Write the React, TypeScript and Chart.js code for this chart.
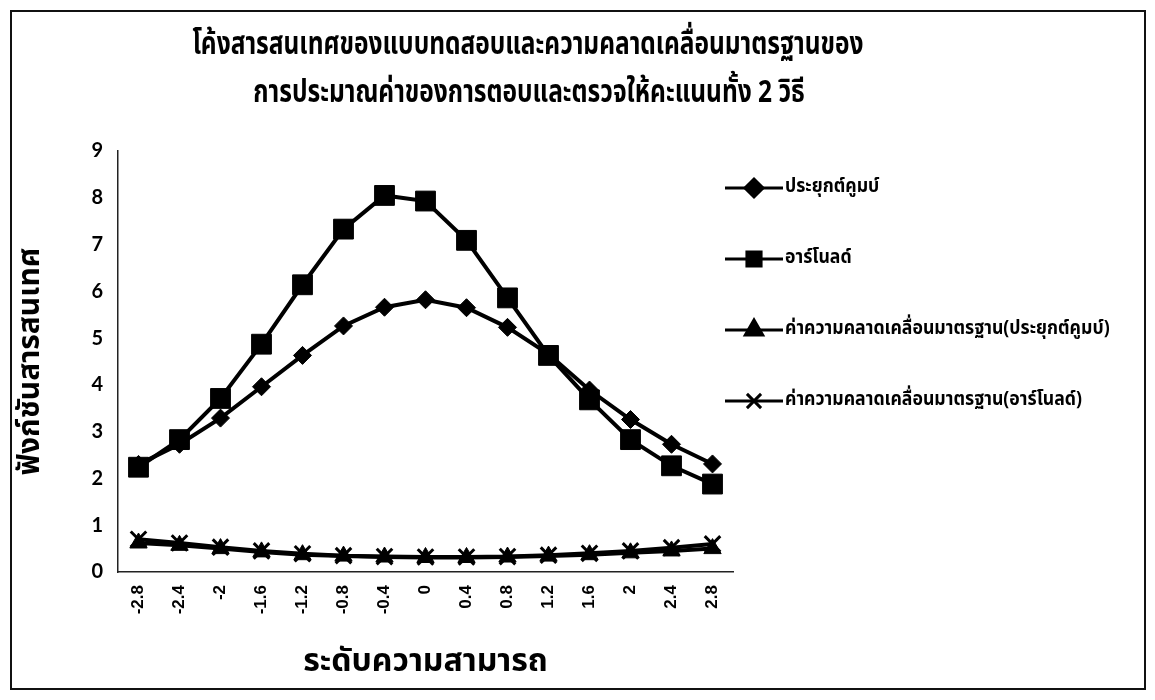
import React, { useEffect, useRef } from "react";
import { Chart, registerables } from "chart.js";
import { drawPoint } from "chart.js/helpers";

Chart.register(...registerables);

// Ability levels (theta) on the category axis
const abilityLevels = ["-2.8", "-2.4", "-2", "-1.6", "-1.2", "-0.8", "-0.4", "0", "0.4", "0.8", "1.2", "1.6", "2", "2.4", "2.8"];

// Test information, applied Coombs scoring
const infoCoombs = [2.3, 2.73, 3.29, 3.96, 4.63, 5.26, 5.66, 5.82, 5.65, 5.23, 4.66, 3.89, 3.26, 2.73, 2.31];
// Test information, Arnold scoring
const infoArnold = [2.24, 2.83, 3.71, 4.87, 6.14, 7.33, 8.05, 7.93, 7.09, 5.86, 4.63, 3.68, 2.83, 2.27, 1.88];
// Standard error, applied Coombs scoring
const seCoombs = [0.62, 0.57, 0.5, 0.43, 0.37, 0.34, 0.32, 0.31, 0.31, 0.32, 0.34, 0.37, 0.41, 0.45, 0.5];
// Standard error, Arnold scoring
const seArnold = [0.7, 0.62, 0.53, 0.45, 0.39, 0.35, 0.33, 0.32, 0.32, 0.33, 0.36, 0.4, 0.45, 0.52, 0.6];

const seriesNames = [
  "ประยุกต์คูมบ์",
  "อาร์โนลด์",
  "ค่าความคลาดเคลื่อนมาตรฐาน(ประยุกต์คูมบ์)",
  "ค่าความคลาดเคลื่อนมาตรฐาน(อาร์โนลด์)",
];
const pointStyles = ["rectRot", "rect", "triangle", "crossRot"];
const pointRadii = [9, 14, 10, 11];

const titleLines = [
  "โค้งสารสนเทศของแบบทดสอบและความคลาดเคลื่อนมาตรฐานของ",
  "การประมาณค่าของการตอบและตรวจให้คะแนนทั้ง 2 วิธี",
];
const xAxisTitle = "ระดับความสามารถ";
const yAxisTitle = "ฟังก์ชันสารสนเทศ";
const yMin = 0;
const yMax = 9;
const yStep = 1;

const THAI_FONT = "'Noto Sans Thai', 'Noto Sans', 'DejaVu Sans', sans-serif";

// Draws text squeezed horizontally by sx, anchored at (x, y)
function drawNarrowText(ctx: CanvasRenderingContext2D, text: string, x: number, y: number, sx: number) {
  ctx.save();
  ctx.translate(x, y);
  ctx.scale(sx, 1);
  ctx.fillText(text, 0, 0);
  ctx.restore();
}

// Chart title, legend and outer frame are painted directly on the canvas
const decorPlugin = {
  id: "decor",
  beforeDraw(chart: any) {
    const ctx = chart.ctx;
    ctx.save();
    ctx.fillStyle = "#fff";
    ctx.fillRect(0, 0, chart.width, chart.height);
    ctx.restore();
  },
  afterDraw(chart: any) {
    const ctx: CanvasRenderingContext2D = chart.ctx;
    ctx.save();
    // frame
    ctx.strokeStyle = "#111";
    ctx.lineWidth = 2;
    ctx.strokeRect(11, 11, 1134, 678);

    // title
    ctx.fillStyle = "#000";
    ctx.textAlign = "center";
    ctx.textBaseline = "middle";
    ctx.font = `bold 31px ${THAI_FONT}`;
    drawNarrowText(ctx, titleLines[0], 528, 48, 0.79);
    drawNarrowText(ctx, titleLines[1], 529, 96, 0.79);

    // legend
    const legendTop = 188;
    const legendGap = 71;
    chart.data.datasets.forEach((ds: any, i: number) => {
      const y = legendTop + i * legendGap;
      ctx.strokeStyle = "#000";
      ctx.lineWidth = 3;
      ctx.beginPath();
      ctx.moveTo(725, y);
      ctx.lineTo(783, y);
      ctx.stroke();
      ctx.fillStyle = "#000";
      ctx.strokeStyle = "#000";
      drawPoint(ctx, {
        pointStyle: ds.pointStyle,
        radius: Math.min(ds.pointRadius, 10),
        borderWidth: ds.pointBorderWidth,
        rotation: 0,
      } as any, 754, y);
      ctx.fillStyle = "#000";
      ctx.textAlign = "left";
      ctx.textBaseline = "middle";
      ctx.font = `bold 19px ${THAI_FONT}`;
      drawNarrowText(ctx, ds.label, 785, y, 0.93);
    });
    ctx.restore();
  },
};

export default function App() {
  const canvasRef = useRef<HTMLCanvasElement | null>(null);

  useEffect(() => {
    document.body.style.margin = "0";
    const canvas = canvasRef.current;
    if (!canvas) return;
    const seriesValues = [infoCoombs, infoArnold, seCoombs, seArnold];
    const chart = new Chart(canvas, {
      type: "line",
      data: {
        labels: abilityLevels,
        datasets: seriesValues.map((values, i) => ({
          label: seriesNames[i],
          data: values,
          borderColor: "#000",
          backgroundColor: "#000",
          borderWidth: 4,
          pointStyle: pointStyles[i] as any,
          pointRadius: pointRadii[i],
          pointBackgroundColor: "#000",
          pointBorderColor: "#000",
          pointBorderWidth: i === 3 ? 3 : 1,
          tension: 0,
        })),
      },
      options: {
        animation: false,
        responsive: false,
        devicePixelRatio: 1,
        layout: { padding: { left: 0, top: 151, right: 422, bottom: 0 } },
        plugins: {
          legend: { display: false },
          title: { display: false },
          tooltip: { enabled: false },
        },
        scales: {
          x: {
            type: "category",
            offset: true,
            grid: { display: false, drawTicks: false },
            border: { display: true, color: "#222", width: 1.5 },
            ticks: {
              color: "#000",
              autoSkip: false,
              minRotation: 90,
              maxRotation: 90,
              padding: 13,
              font: { family: "'Liberation Sans', Arial, sans-serif", size: 17, weight: "bold" },
            },
            title: {
              display: true,
              text: xAxisTitle,
              color: "#000",
              font: { family: THAI_FONT, size: 32, weight: "bold" },
              padding: { top: 0, bottom: 16 },
            },
            afterFit(scale: any) {
              scale.height = 128;
            },
          },
          y: {
            min: yMin,
            max: yMax,
            grid: { display: false, drawTicks: false },
            border: { display: true, color: "#222", width: 1.5 },
            ticks: {
              stepSize: yStep,
              color: "#000",
              padding: 15,
              font: { family: "Lato, 'Open Sans', sans-serif", size: 20, weight: "bold" },
            },
            title: {
              display: true,
              text: yAxisTitle,
              color: "#000",
              font: { family: THAI_FONT, size: 30, weight: "bold" },
              padding: { top: 15, bottom: 0 },
            },
            afterFit(scale: any) {
              scale.width = 118;
            },
          },
        },
      },
      plugins: [decorPlugin],
    });
    return () => chart.destroy();
  }, []);

  return (
    <div style={{ position: "absolute", left: 0, top: 0, width: 1155, height: 700, background: "#fff" }}>
      <canvas ref={canvasRef} width={1155} height={700} style={{ width: 1155, height: 700, display: "block" }} />
    </div>
  );
}
